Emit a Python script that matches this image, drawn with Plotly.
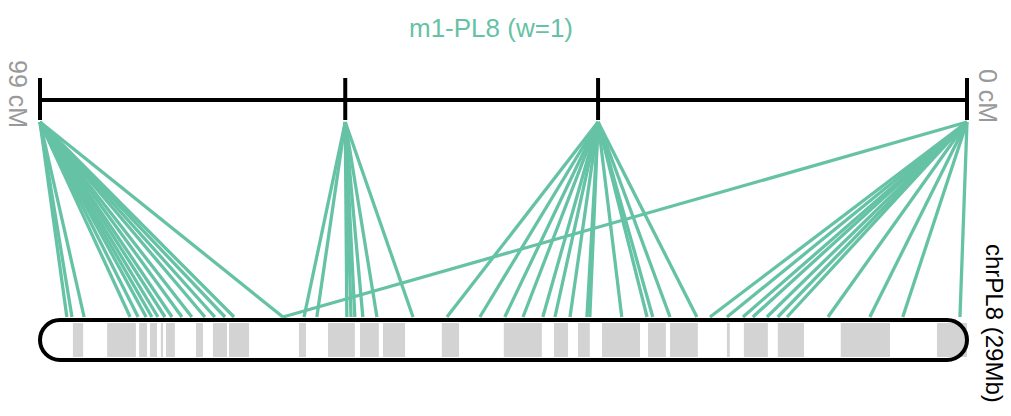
import plotly.graph_objects as go

# ---------------- data ----------------
MAP_TITLE = "m1-PL8 (w=1)"
CHR_LABEL = "chrPL8 (29Mb)"
CHR_LEN_MB = 29.0
CM_MAX = 99.0
CM_LABELS = ["99 cM", "0 cM"]

# genetic positions (cM) of the markers on the linkage map
marker_cm = [99.0, 66.4, 39.4, 0.0]

# physical positions (Mb) on the chromosome linked to each marker
links_99 = [0.84, 1.00, 1.38, 2.82, 3.07, 3.32, 3.50, 3.69, 3.91, 4.13, 4.44,
            4.75, 5.16, 5.47, 5.79, 6.07, 7.60]
links_66 = [8.26, 8.66, 9.60, 9.73, 9.85, 10.10, 10.54, 11.67]
links_39 = [12.73, 13.76, 14.54, 15.11, 15.73, 16.11, 16.58, 17.11, 17.20,
            18.20, 18.99, 19.17, 19.71, 20.55]
links_0 = [7.60, 20.96, 21.49, 21.99, 22.30, 22.74, 23.08, 23.37, 24.65,
           25.96, 26.99, 28.78]

# chromosome bands (Mb)
band_start = [1.03, 2.10, 3.10, 3.44, 3.78, 3.94, 4.88, 5.41, 5.91, 8.10, 9.01,
              10.01, 10.73, 12.57, 14.51, 16.08, 16.83, 17.58, 19.02, 19.71,
              21.49, 22.02, 23.08, 25.05, 28.06]
band_end = [1.35, 3.00, 3.35, 3.66, 3.85, 4.22, 5.10, 5.85, 6.54, 8.32, 9.85,
            10.60, 11.42, 13.11, 15.70, 16.52, 17.20, 18.77, 19.58, 20.58,
            21.58, 22.77, 23.90, 26.59, 29.00]

# ---------------- styling ----------------
W, H = 1011, 416
LINK_COLOR = "#66c2a5"
BAND_COLOR = "#d3d3d3"
FONT = "Liberation Sans, Arial, sans-serif"

PX_PER_MB = 927.0 / CHR_LEN_MB
X_LEFT_PX = 40.0


def cm_to_x(cm):
    return (CM_MAX - cm) / CM_MAX * CHR_LEN_MB


# vertical layout (pixel units on a reversed y axis)
Y_BAR = 100
Y_TICK0, Y_TICK1 = 78, 120
Y_LINK0, Y_LINK1 = 122, 317
Y_CHR_T, Y_CHR_B = 320, 360
Y_BAND_T, Y_BAND_B = 323, 357

fig = go.Figure()

# links
xs, ys = [], []
for cm, targets in zip(marker_cm, [links_99, links_66, links_39, links_0]):
    for mb in targets:
        xs += [cm_to_x(cm), mb, None]
        ys += [Y_LINK0, Y_LINK1, None]
fig.add_trace(go.Scatter(x=xs, y=ys, mode="lines",
                         line=dict(color=LINK_COLOR, width=3.3),
                         hoverinfo="skip", showlegend=False))

shapes = []
# bands
for s, e in zip(band_start, band_end):
    shapes.append(dict(type="rect", xref="x", yref="y", x0=s, x1=e,
                       y0=Y_BAND_T, y1=Y_BAND_B, fillcolor=BAND_COLOR,
                       line=dict(width=0), layer="above"))

# chromosome outline (rounded)
rx = 20.0 / PX_PER_MB
ry = (Y_CHR_B - Y_CHR_T) / 2.0
yc = (Y_CHR_B + Y_CHR_T) / 2.0
k = 0.5523
L = CHR_LEN_MB
yt, yb = Y_CHR_T, Y_CHR_B
path = (f"M {rx},{yt} L {L-rx},{yt} "
        f"C {L-rx+k*rx},{yt} {L},{yc-k*ry} {L},{yc} "
        f"C {L},{yc+k*ry} {L-rx+k*rx},{yb} {L-rx},{yb} "
        f"L {rx},{yb} "
        f"C {rx-k*rx},{yb} 0,{yc+k*ry} 0,{yc} "
        f"C 0,{yc-k*ry} {rx-k*rx},{yt} {rx},{yt} Z")
shapes.append(dict(type="path", xref="x", yref="y", path=path,
                   line=dict(color="black", width=4), layer="above"))

# linkage map bar and ticks
shapes.append(dict(type="line", xref="x", yref="y",
                   x0=cm_to_x(CM_MAX), x1=cm_to_x(0), y0=Y_BAR, y1=Y_BAR,
                   line=dict(color="black", width=4), layer="above"))
for cm in marker_cm:
    shapes.append(dict(type="line", xref="x", yref="y",
                       x0=cm_to_x(cm), x1=cm_to_x(cm), y0=Y_TICK0, y1=Y_TICK1,
                       line=dict(color="black", width=4), layer="above"))

fig.update_layout(
    width=W, height=H,
    margin=dict(l=0, r=0, t=0, b=0),
    paper_bgcolor="white", plot_bgcolor="white",
    showlegend=False,
    shapes=shapes,
    xaxis=dict(range=[-X_LEFT_PX / PX_PER_MB, (W - X_LEFT_PX) / PX_PER_MB],
               visible=False, fixedrange=True),
    yaxis=dict(range=[H, 0], visible=False, fixedrange=True),
)


def px(x):
    return x / W


def py(y):
    return 1 - y / H


def label(text, x, y, size, color, angle=0):
    return dict(text=text, x=px(x), y=py(y), xref="paper", yref="paper",
                xanchor="center", yanchor="middle", showarrow=False,
                textangle=angle, font=dict(family=FONT, size=size, color=color))


annotations = [
    label(MAP_TITLE, 491, 28, 26, LINK_COLOR),
    label(CM_LABELS[0], 18, 94, 25, "#999999", 90),
    label(CM_LABELS[1], 988, 96, 25, "#999999", 90),
    label(CHR_LABEL, 995, 323, 24, "black", 90),
]
fig.update_layout(annotations=annotations)

fig.write_html("out.html")
